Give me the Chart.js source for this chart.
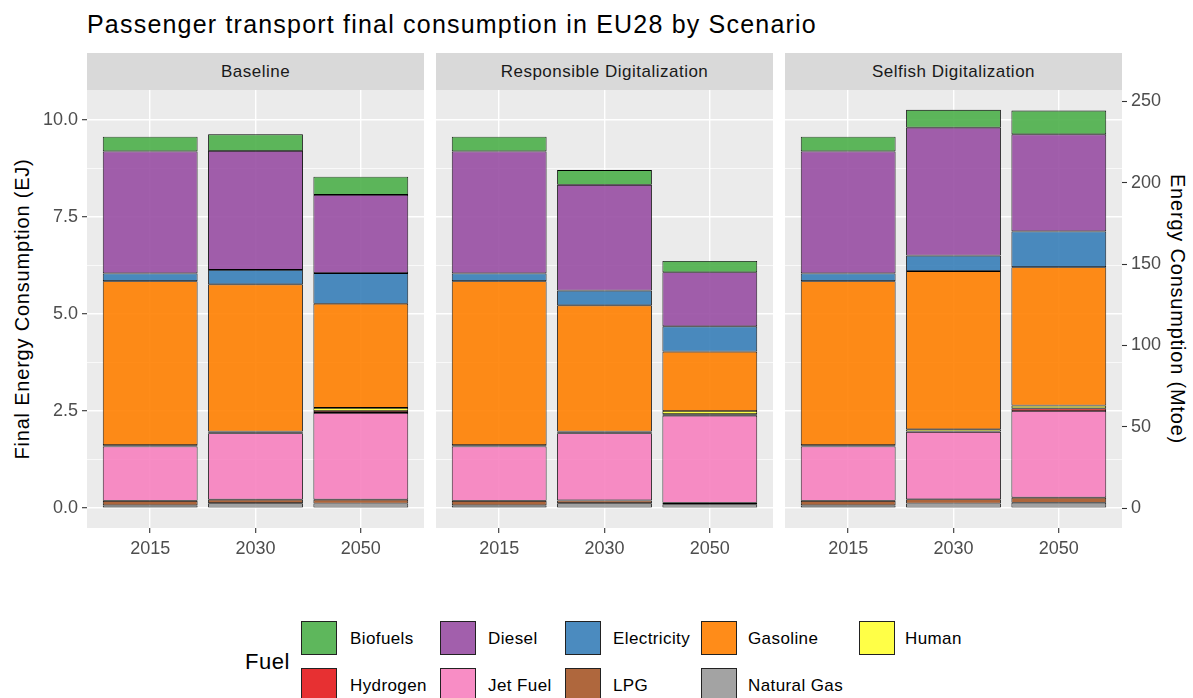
<!DOCTYPE html>
<html>
<head>
<meta charset="utf-8">
<script src="https://cdn.jsdelivr.net/npm/chart.js@4.4.0/dist/chart.umd.min.js"></script>
<style>
  body { margin: 0; background: #fff; }
  #wrap { position: relative; width: 1193px; height: 698px; overflow: hidden;
          font-family: 'Liberation Sans', Arial, sans-serif; background: #fff; }
  #title { position: absolute; left: 87px; top: 12px; font-size: 25px; line-height: 25px; letter-spacing: 1.2px; color: #000; white-space: nowrap; }
  .ytitle { position: absolute; font-size: 20px; line-height: 20px; letter-spacing: 0.8px; color: #000; white-space: nowrap; }
  .strip { position: absolute; top: 53px; height: 37px; line-height: 37px; background: #D9D9D9;
           color: #1A1A1A; font-size: 17px; letter-spacing: 0.5px; text-align: center; }
  canvas { position: absolute; top: 90px; }
  .key { position: absolute; width: 34px; height: 32px; border: 1px solid #222; }
  .klabel { position: absolute; font-size: 17px; line-height: 17px; letter-spacing: 0.4px; color: #000; white-space: nowrap; }
</style>
</head>
<body>
<div id="wrap">
  <div id="title">Passenger transport final consumption in EU28 by Scenario</div>
  <div class="ytitle" id="yl">Final Energy Consumption (EJ)</div>
  <div class="ytitle" id="yr">Energy Consumption (Mtoe)</div>
</div>
<script>
// Categories
const scenarios = ['Baseline', 'Responsible Digitalization', 'Selfish Digitalization'];
const years = ['2015', '2030', '2050'];
const fuels = ['Biofuels', 'Diesel', 'Electricity', 'Gasoline', 'Human', 'Hydrogen', 'Jet Fuel', 'LPG', 'Natural Gas'];
const fuelColors = ['#4DAF4A', '#984EA3', '#377EB8', '#FF7F00', '#FFFF33', '#E41A1C', '#F781BF', '#A65628', '#999999'];

// EJ values, order: Baseline 2015/2030/2050, Responsible 2015/2030/2050, Selfish 2015/2030/2050
const biofuels    = [0.38, 0.43, 0.47, 0.38, 0.38, 0.29, 0.38, 0.46, 0.61];
const diesel      = [3.14, 3.06, 2.01, 3.14, 2.72, 1.39, 3.14, 3.29, 2.50];
const electricity = [0.20, 0.37, 0.79, 0.20, 0.38, 0.65, 0.20, 0.40, 0.92];
const gasoline    = [4.22, 3.79, 2.68, 4.22, 3.25, 1.53, 4.22, 4.07, 3.56];
const human       = [0.02, 0.03, 0.08, 0.02, 0.03, 0.08, 0.02, 0.06, 0.07];
const hydrogen    = [0.01, 0.01, 0.05, 0.01, 0.01, 0.04, 0.01, 0.01, 0.07];
const jetFuel     = [1.40, 1.71, 2.23, 1.40, 1.73, 2.24, 1.40, 1.73, 2.23];
const lpg         = [0.12, 0.09, 0.10, 0.12, 0.07, 0.04, 0.12, 0.11, 0.13];
const naturalGas  = [0.07, 0.13, 0.12, 0.07, 0.13, 0.10, 0.07, 0.12, 0.14];
const fuelValues = [biofuels, diesel, electricity, gasoline, human, hydrogen, jetFuel, lpg, naturalGas];

// Axis ticks
const ejTicks = [0, 2.5, 5, 7.5, 10];
const ejMinorTicks = [1.25, 3.75, 6.25, 8.75];
const mtoeTicks = [0, 50, 100, 150, 200, 250];
const ejToMtoe = 23.88;
const yMin = -0.51, yMax = 10.76;

// Layout
const panelLeft = [87, 436, 785];
const panelWidth = 337;
const chartHeight = 470;

Chart.defaults.font.family = "'Liberation Sans', Arial, sans-serif";
Chart.defaults.font.size = 18;
Chart.defaults.color = '#4D4D4D';

function withAlpha(hex, a) {
    const n = parseInt(hex.slice(1), 16);
    return `rgba(${(n >> 16) & 255}, ${(n >> 8) & 255}, ${n & 255}, ${a})`;
}

// no extra room for half-labels, so all panels share the same plot area
function noPadding(axis) {
    axis.paddingTop = 0;
    axis.paddingBottom = 0;
    axis.paddingLeft = 0;
    axis.paddingRight = 0;
}

const panelBackground = {
    id: 'panelBackground',
    beforeDraw(chart) {
        const { ctx, chartArea: a } = chart;
        ctx.save();
        ctx.fillStyle = '#EBEBEB';
        ctx.fillRect(a.left, a.top, a.right - a.left, a.bottom - a.top);
        ctx.restore();
    }
};

const wrap = document.getElementById('wrap');

scenarios.forEach((name, p) => {
    // strip label
    const strip = document.createElement('div');
    strip.className = 'strip';
    strip.style.left = panelLeft[p] + 'px';
    strip.style.width = panelWidth + 'px';
    strip.textContent = name;
    wrap.appendChild(strip);

    const leftSpace = p === 0 ? panelLeft[0] : 0;
    const rightSpace = p === 2 ? 1193 - panelLeft[2] - panelWidth : 0;
    const canvas = document.createElement('canvas');
    canvas.width = leftSpace + panelWidth + rightSpace;
    canvas.height = chartHeight;
    canvas.style.left = (panelLeft[p] - leftSpace) + 'px';
    wrap.appendChild(canvas);

    // stack bottom to top: reverse of the fuel order
    const datasets = fuels.map((f, k) => ({
        label: f,
        data: years.map((y, i) => ({ x: i + 1, y: fuelValues[k][p * 3 + i] })),
        backgroundColor: withAlpha(fuelColors[k], 0.9),
        borderColor: '#000',
        borderWidth: 0.85,
        borderSkipped: false,
        barPercentage: 0.9,
        categoryPercentage: 1
    })).reverse();

    const scales = {
        x: {
            type: 'linear',
            stacked: true,
            min: 0.4,
            max: 3.6,
            offset: false,
            afterBuildTicks: axis => { axis.ticks = years.map((y, i) => ({ value: i + 1 })); },
            afterFit: axis => { axis.height = 32; noPadding(axis); },
            ticks: {
                callback: v => years[v - 1],
                padding: 5,
                color: '#4D4D4D',
                maxRotation: 0
            },
            grid: {
                offset: false,
                color: '#FFFFFF',
                lineWidth: 1.4,
                tickLength: 5,
                tickColor: '#333333',
                tickWidth: 1.1
            },
            border: { display: false }
        },
        y: {
            type: 'linear',
            stacked: true,
            min: yMin,
            max: yMax,
            afterBuildTicks: axis => {
                axis.ticks = ejTicks.concat(ejMinorTicks).sort((a, b) => a - b).map(v => ({ value: v }));
            },
            afterFit: axis => { axis.width = leftSpace; noPadding(axis); },
            ticks: {
                display: p === 0,
                padding: 4,
                color: '#4D4D4D',
                callback: v => ejTicks.includes(v) ? v.toFixed(1) : ''
            },
            grid: {
                color: '#FFFFFF',
                lineWidth: ctx => ejTicks.includes(ctx.tick.value) ? 1.4 : 0.7,
                drawTicks: p === 0,
                tickLength: 5,
                tickColor: ctx => ejTicks.includes(ctx.tick.value) ? '#333333' : 'rgba(0,0,0,0)',
                tickWidth: 1.1
            },
            border: { display: false }
        }
    };

    if (p === 2) {
        scales.y2 = {
            type: 'linear',
            position: 'right',
            min: yMin * ejToMtoe,
            max: yMax * ejToMtoe,
            afterBuildTicks: axis => { axis.ticks = mtoeTicks.map(v => ({ value: v })); },
            afterFit: axis => { axis.width = rightSpace; noPadding(axis); },
            ticks: { padding: 4, color: '#4D4D4D', callback: v => String(v) },
            grid: {
                drawOnChartArea: false,
                tickLength: 5,
                tickColor: '#333333',
                tickWidth: 1.1
            },
            border: { display: false }
        };
    }

    new Chart(canvas.getContext('2d'), {
        type: 'bar',
        data: { datasets },
        options: {
            responsive: false,
            animation: false,
            layout: { padding: 0 },
            plugins: {
                legend: { display: false },
                tooltip: { enabled: false }
            },
            scales
        },
        plugins: [panelBackground]
    });
});

// axis titles
const yl = document.getElementById('yl');
yl.style.left = '22px';
yl.style.top = '309px';
yl.style.transform = 'translate(-50%, -50%) rotate(-90deg)';
const yr = document.getElementById('yr');
yr.style.left = '1178px';
yr.style.top = '309px';
yr.style.transform = 'translate(-50%, -50%) rotate(90deg)';

// legend
const legendTitle = document.createElement('div');
legendTitle.className = 'ytitle';
legendTitle.textContent = 'Fuel';
legendTitle.style.fontSize = '22px';
legendTitle.style.letterSpacing = '0.5px';
legendTitle.style.left = '245px';
legendTitle.style.top = '652px';
wrap.appendChild(legendTitle);

const keyCols = [301, 440, 565, 701, 859];
const labelCols = [350, 488, 613, 748, 905];
const keyRows = [621, 668];
fuels.forEach((f, k) => {
    const col = k % 5, row = Math.floor(k / 5);
    const key = document.createElement('div');
    key.className = 'key';
    key.style.left = keyCols[col] + 'px';
    key.style.top = keyRows[row] + 'px';
    key.style.background = withAlpha(fuelColors[k], 0.9);
    wrap.appendChild(key);
    const lab = document.createElement('div');
    lab.className = 'klabel';
    lab.textContent = f;
    lab.style.left = labelCols[col] + 'px';
    lab.style.top = (keyRows[row] + 9) + 'px';
    wrap.appendChild(lab);
});
</script>
</body>
</html>
